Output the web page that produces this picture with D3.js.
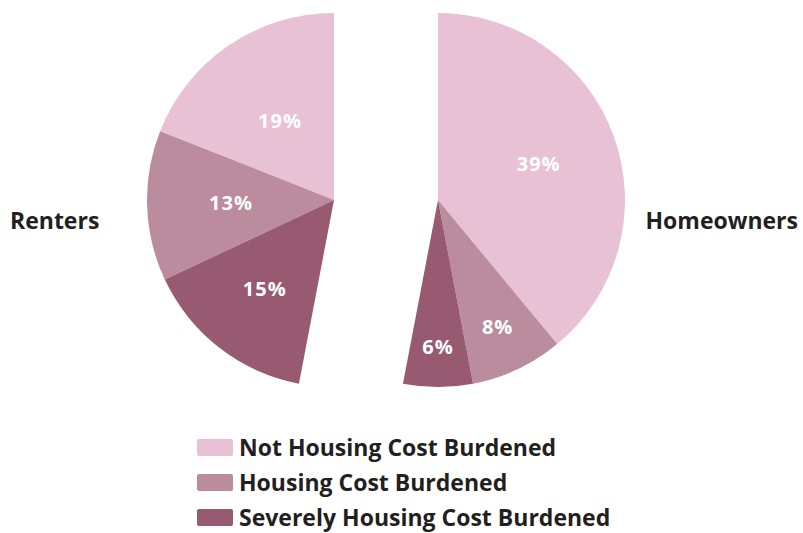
<!DOCTYPE html>
<html>
<head>
<meta charset="utf-8">
<script src="https://cdn.jsdelivr.net/npm/d3@7"></script>
<style>
  html, body { margin: 0; padding: 0; background: #fff; }
  svg text { font-family: "Open Sans", Lato, sans-serif; font-weight: 700; }
</style>
</head>
<body>
<svg id="chart" width="803" height="533"></svg>
<script>
// Housing cost burden shares (percent of all households)
const categories = ["Not Housing Cost Burdened", "Housing Cost Burdened", "Severely Housing Cost Burdened"];
const groups = ["Renters", "Homeowners"];
const renterValues = [19, 13, 15];
const ownerValues = [39, 8, 6];
const colors = ["#e8c1d4", "#bb8b9e", "#975a70"];

const svg = d3.select("#chart");
const radius = 187;
const cy = 200;
const leftCx = 334, rightCx = 438;
const ink = "#231f20";

// both halves share one angular scale: renters sweep counter-clockwise, owners clockwise
const total = d3.sum(renterValues) + d3.sum(ownerValues);
const angle = d3.scaleLinear().domain([0, total]).range([0, 2 * Math.PI]);

const arc = d3.arc().innerRadius(0).outerRadius(radius);

function slices(values, dir) {
  let acc = 0;
  return values.map((v, i) => {
    const a0 = angle(acc), a1 = angle(acc + v);
    acc += v;
    return dir > 0
      ? { value: v, i, startAngle: a0, endAngle: a1 }
      : { value: v, i, startAngle: -a1, endAngle: -a0 };
  });
}

// label distance from centre for each slice
const renterLabelR = [96, 103, 113];
const ownerLabelR = [107, 140, 147];

function drawHalf(values, dir, cx, labelR) {
  const g = svg.append("g").attr("transform", `translate(${cx},${cy})`);
  const data = slices(values, dir);
  g.selectAll("path").data(data).join("path")
    .attr("d", arc)
    .attr("fill", d => colors[d.i]);
  g.selectAll("text").data(data).join("text")
    .attr("transform", d => {
      const m = (d.startAngle + d.endAngle) / 2;
      const r = labelR[d.i];
      return `translate(${r * Math.sin(m)},${-r * Math.cos(m)})`;
    })
    .attr("text-anchor", "middle")
    .attr("dy", "0.36em")
    .attr("fill", "#fff")
    .attr("font-size", 20)
    .attr("letter-spacing", 1)
    .text(d => d.value + "%");
}

drawHalf(renterValues, -1, leftCx, renterLabelR);
drawHalf(ownerValues, 1, rightCx, ownerLabelR);

// group labels
svg.append("text").attr("x", 10).attr("y", 229)
  .attr("font-size", 23).attr("fill", ink).text(groups[0]);
svg.append("text").attr("x", 798).attr("y", 229).attr("text-anchor", "end")
  .attr("font-size", 23).attr("fill", ink).text(groups[1]);

// legend
const legend = svg.append("g").attr("transform", "translate(197,439)");
const row = legend.selectAll("g").data(categories).join("g")
  .attr("transform", (d, i) => `translate(0,${i * 35})`);
row.append("rect").attr("width", 36).attr("height", 17).attr("rx", 2)
  .attr("fill", (d, i) => colors[i]);
row.append("text").attr("x", 42).attr("y", 8.5).attr("dy", "0.36em")
  .attr("font-size", 23).attr("fill", ink).text(d => d);
</script>
</body>
</html>
